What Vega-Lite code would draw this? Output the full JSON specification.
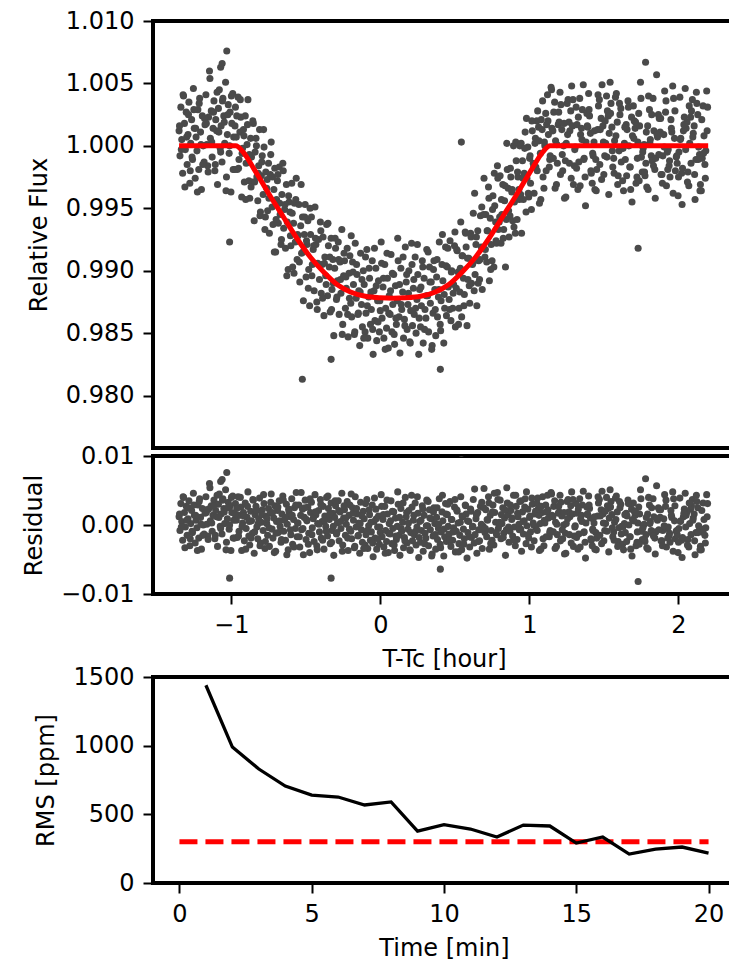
{"$schema":"https://vega.github.io/schema/vega-lite/v6.json","padding":{"left":20,"top":7,"right":0,"bottom":0},"background":"white","config":{"font":"DejaVu Sans","view":{"stroke":"black","strokeWidth":4},"axis":{"domain":false,"grid":false,"ticks":true,"tickColor":"black","tickSize":10,"tickWidth":2,"labelFont":"DejaVu Sans","labelFontSize":24,"labelColor":"black","labelPadding":9,"labelFlush":false,"labelOverlap":false,"titleFont":"DejaVu Sans","titleFontSize":24,"titleFontWeight":"normal","titleColor":"black"},"axisX":{"titlePadding":10},"axisY":{"titlePadding":14}},
"datasets":{
"lc":[
{"t":-1.35,"f":1.0012,"r":0.0012},{"t":-1.344,"f":0.9992,"r":-0.0008},{"t":-1.338,"f":1.0031,"r":0.0031},{"t":-1.332,"f":1.0005,"r":0.0005},{"t":-1.326,"f":0.9978,"r":-0.0022},{"t":-1.32,"f":1.004,"r":0.004},{"t":-1.314,"f":1.0018,"r":0.0018},{"t":-1.308,"f":0.9997,"r":-0.0003},{"t":-1.302,"f":1.0027,"r":0.0027},{"t":-1.296,"f":0.9985,"r":-0.0015},
{"t":-1.29,"f":1.0009,"r":0.0009},{"t":-1.284,"f":1.0035,"r":0.0035},{"t":-1.278,"f":0.997,"r":-0.003},{"t":-1.272,"f":1.0002,"r":0.0002},{"t":-1.266,"f":1.0021,"r":0.0021},{"t":-1.26,"f":0.9989,"r":-0.0011},{"t":-1.254,"f":1.0046,"r":0.0046},{"t":-1.248,"f":1.0014,"r":0.0014},{"t":-1.242,"f":0.9974,"r":-0.0026},{"t":-1.236,"f":1.0007,"r":0.0007},
{"t":-1.23,"f":0.9996,"r":-0.0004},{"t":-1.224,"f":1.0029,"r":0.0029},{"t":-1.218,"f":0.9981,"r":-0.0019},{"t":-1.212,"f":1.0038,"r":0.0038},{"t":-1.206,"f":1.0011,"r":0.0011},{"t":-1.2,"f":0.9965,"r":-0.0035},{"t":-1.194,"f":1.0024,"r":0.0024},{"t":-1.188,"f":1.0,"r":0.0},{"t":-1.182,"f":0.9987,"r":-0.0013},{"t":-1.176,"f":1.0017,"r":0.0017},
{"t":-1.17,"f":1.0041,"r":0.0041},{"t":-1.164,"f":1.0001,"r":0.0001},{"t":-1.158,"f":0.9984,"r":-0.0016},{"t":-1.152,"f":1.0023,"r":0.0023},{"t":-1.146,"f":1.006,"r":0.006},{"t":-1.14,"f":1.0006,"r":0.0006},{"t":-1.134,"f":1.0028,"r":0.0028},{"t":-1.128,"f":0.9991,"r":-0.0009},{"t":-1.122,"f":1.0014,"r":0.0014},{"t":-1.116,"f":1.0036,"r":0.0036},
{"t":-1.11,"f":0.998,"r":-0.002},{"t":-1.104,"f":1.0021,"r":0.0021},{"t":-1.098,"f":1.0012,"r":0.0012},{"t":-1.092,"f":0.9969,"r":-0.0031},{"t":-1.086,"f":1.003,"r":0.003},{"t":-1.08,"f":1.0045,"r":0.0045},{"t":-1.074,"f":0.9998,"r":-0.0002},{"t":-1.068,"f":1.0016,"r":0.0016},{"t":-1.062,"f":0.9987,"r":-0.0013},{"t":-1.056,"f":1.0038,"r":0.0038},
{"t":-1.05,"f":1.0024,"r":0.0024},{"t":-1.044,"f":1.0002,"r":0.0002},{"t":-1.038,"f":1.0051,"r":0.0051},{"t":-1.032,"f":0.9975,"r":-0.0025},{"t":-1.026,"f":1.0009,"r":0.0009},{"t":-1.02,"f":1.0033,"r":0.0033},{"t":-1.014,"f":0.9994,"r":-0.0006},{"t":-1.008,"f":1.0027,"r":0.0027},{"t":-1.002,"f":0.9963,"r":-0.0037},{"t":-0.996,"f":1.0018,"r":0.0018},
{"t":-0.99,"f":1.0042,"r":0.0042},{"t":-0.984,"f":1.0007,"r":0.0007},{"t":-0.978,"f":0.9981,"r":-0.0019},{"t":-0.972,"f":1.0031,"r":0.0031},
{"t":-0.966,"f":1.0007,"r":0.0007},{"t":-0.96,"f":0.9981,"r":-0.0018},{"t":-0.954,"f":1.0039,"r":0.0041},{"t":-0.948,"f":0.9989,"r":-0.0009},{"t":-0.942,"f":1.0011,"r":0.0014},{"t":-0.936,"f":1.0023,"r":0.0026},{"t":-0.93,"f":0.9959,"r":-0.0037},{"t":-0.924,"f":0.9998,"r":0.0003},{"t":-0.918,"f":1.0013,"r":0.0018},{"t":-0.912,"f":0.9971,"r":-0.0023},
{"t":-0.906,"f":1.0024,"r":0.0032},{"t":-0.9,"f":0.9986,"r":-0.0005},{"t":-0.894,"f":1.0001,"r":0.0011},{"t":-0.888,"f":1.0037,"r":0.0048},{"t":-0.882,"f":0.9972,"r":-0.0016},{"t":-0.876,"f":0.9958,"r":-0.0029},{"t":-0.87,"f":1.0006,"r":0.002},{"t":-0.864,"f":0.9991,"r":0.0006},{"t":-0.858,"f":0.9971,"r":-0.0012},{"t":-0.852,"f":1.0018,"r":0.0036},
{"t":-0.846,"f":0.994,"r":-0.0041},{"t":-0.84,"f":0.9995,"r":0.0015},{"t":-0.834,"f":1.0006,"r":0.0027},{"t":-0.828,"f":0.9975,"r":-0.0003},{"t":-0.822,"f":0.9956,"r":-0.002},{"t":-0.816,"f":0.9984,"r":0.0009},{"t":-0.81,"f":1.0013,"r":0.0039},{"t":-0.804,"f":0.9947,"r":-0.0026},{"t":-0.798,"f":0.9976,"r":0.0004},{"t":-0.792,"f":0.9992,"r":0.0022},
{"t":-0.786,"f":0.9961,"r":-0.0008},{"t":-0.78,"f":0.9999,"r":0.0031},{"t":-0.774,"f":0.9933,"r":-0.0034},{"t":-0.768,"f":0.9979,"r":0.0013},{"t":-0.762,"f":0.9966,"r":0.0002},{"t":-0.756,"f":0.9948,"r":-0.0015},{"t":-0.75,"f":0.9986,"r":0.0024},{"t":-0.744,"f":0.993,"r":-0.0031},{"t":-0.738,"f":0.9977,"r":0.0017},{"t":-0.732,"f":1.0003,"r":0.0045},
{"t":-0.726,"f":0.9951,"r":-0.0006},{"t":-0.72,"f":0.9937,"r":-0.0019},{"t":-0.714,"f":0.9965,"r":0.001},{"t":-0.708,"f":0.9982,"r":0.0028},{"t":-0.702,"f":0.9915,"r":-0.0038},{"t":-0.696,"f":0.9957,"r":0.0005},{"t":-0.69,"f":0.9972,"r":0.0021},{"t":-0.684,"f":0.9938,"r":-0.0011},{"t":-0.678,"f":0.9983,"r":0.0035},{"t":-0.672,"f":0.9945,"r":-0.0002},
{"t":-0.666,"f":0.9921,"r":-0.0025},{"t":-0.66,"f":0.9961,"r":0.0016},{"t":-0.654,"f":0.9986,"r":0.0042},{"t":-0.648,"f":0.9934,"r":-0.0009},{"t":-0.642,"f":0.9949,"r":0.0007},{"t":-0.636,"f":0.9918,"r":-0.0022},{"t":-0.63,"f":0.9969,"r":0.003},{"t":-0.624,"f":0.9939,"r":0.0001},{"t":-0.618,"f":0.9901,"r":-0.0036},{"t":-0.612,"f":0.9955,"r":0.0019},
{"t":-0.606,"f":0.9947,"r":0.0012},{"t":-0.6,"f":0.992,"r":-0.0014},{"t":-0.594,"f":0.997,"r":0.0038},{"t":-0.588,"f":0.9903,"r":-0.0028},{"t":-0.582,"f":0.9938,"r":0.0008},{"t":-0.576,"f":0.9954,"r":0.0025},{"t":-0.57,"f":0.9923,"r":-0.0005},{"t":-0.564,"f":0.9974,"r":0.0047},{"t":-0.558,"f":0.9909,"r":-0.0017},{"t":-0.552,"f":0.9928,"r":0.0003},
{"t":-0.546,"f":0.9953,"r":0.0029},{"t":-0.54,"f":0.9891,"r":-0.0032},{"t":-0.534,"f":0.9936,"r":0.0014},{"t":-0.528,"f":0.9914,"r":-0.0007},{"t":-0.522,"f":0.9943,"r":0.0023},{"t":-0.516,"f":0.9876,"r":-0.0043},{"t":-0.51,"f":0.9929,"r":0.0011},{"t":-0.504,"f":0.9953,"r":0.0036},{"t":-0.498,"f":0.9895,"r":-0.0021},{"t":-0.492,"f":0.9921,"r":0.0006},
{"t":-0.486,"f":0.994,"r":0.0026},{"t":-0.48,"f":0.9901,"r":-0.0012},{"t":-0.474,"f":0.9872,"r":-0.004},{"t":-0.468,"f":0.9929,"r":0.0018},{"t":-0.462,"f":0.9943,"r":0.0033},{"t":-0.456,"f":0.9905,"r":-0.0004},{"t":-0.45,"f":0.9917,"r":0.0009},{"t":-0.444,"f":0.9884,"r":-0.0024},{"t":-0.438,"f":0.9951,"r":0.0044},{"t":-0.432,"f":0.9921,"r":0.0015},
{"t":-0.426,"f":0.9875,"r":-0.003},{"t":-0.42,"f":0.9906,"r":0.0002},{"t":-0.414,"f":0.9925,"r":0.0021},{"t":-0.408,"f":0.9893,"r":-0.001},{"t":-0.402,"f":0.9939,"r":0.0037},{"t":-0.396,"f":0.9882,"r":-0.0019},{"t":-0.39,"f":0.9905,"r":0.0005},{"t":-0.384,"f":0.9927,"r":0.0027},{"t":-0.378,"f":0.9864,"r":-0.0035},{"t":-0.372,"f":0.9911,"r":0.0013},
{"t":-0.366,"f":0.9896,"r":-0.0002},{"t":-0.36,"f":0.9937,"r":0.004},{"t":-0.354,"f":0.988,"r":-0.0016},{"t":-0.348,"f":0.992,"r":0.0024},{"t":-0.342,"f":0.9903,"r":0.0008},{"t":-0.336,"f":0.9867,"r":-0.0027},{"t":-0.33,"f":0.9926,"r":0.0032},{"t":-0.324,"f":0.9885,"r":-0.0008},{"t":-0.318,"f":0.9909,"r":0.0017},{"t":-0.312,"f":0.9848,"r":-0.0044},
{"t":-0.306,"f":0.9902,"r":0.0011},{"t":-0.3,"f":0.9918,"r":0.0028},{"t":-0.294,"f":0.9877,"r":-0.0013},{"t":-0.288,"f":0.9892,"r":0.0003},{"t":-0.282,"f":0.9923,"r":0.0035},{"t":-0.276,"f":0.9865,"r":-0.0023},{"t":-0.27,"f":0.9907,"r":0.0019},{"t":-0.264,"f":0.9882,"r":-0.0005},{"t":-0.258,"f":0.9933,"r":0.0046},{"t":-0.252,"f":0.9857,"r":-0.0029},
{"t":-0.246,"f":0.9896,"r":0.001},{"t":-0.24,"f":0.9908,"r":0.0022},{"t":-0.234,"f":0.987,"r":-0.0015},{"t":-0.228,"f":0.9886,"r":0.0001},{"t":-0.222,"f":0.9918,"r":0.0034},{"t":-0.216,"f":0.9847,"r":-0.0037},{"t":-0.21,"f":0.9898,"r":0.0014},{"t":-0.204,"f":0.9912,"r":0.0029},{"t":-0.198,"f":0.9874,"r":-0.0009},{"t":-0.192,"f":0.9863,"r":-0.002},
{"t":-0.186,"f":0.9907,"r":0.0025},{"t":-0.18,"f":0.9889,"r":0.0007},{"t":-0.174,"f":0.9849,"r":-0.0033},{"t":-0.168,"f":0.9922,"r":0.0041},{"t":-0.162,"f":0.9878,"r":-0.0003},{"t":-0.156,"f":0.9897,"r":0.0016},
{"t":-0.15,"f":0.9865,"r":-0.0016},{"t":-0.144,"f":0.9884,"r":0.0003},{"t":-0.138,"f":0.984,"r":-0.0041},{"t":-0.132,"f":0.9914,"r":0.0033},{"t":-0.126,"f":0.9873,"r":-0.0007},{"t":-0.12,"f":0.9855,"r":-0.0025},{"t":-0.114,"f":0.99,"r":0.002},{"t":-0.108,"f":0.9889,"r":0.0009},{"t":-0.102,"f":0.9851,"r":-0.0029},{"t":-0.096,"f":0.9866,"r":-0.0014},
{"t":-0.09,"f":0.9917,"r":0.0037},{"t":-0.084,"f":0.9846,"r":-0.0034},{"t":-0.078,"f":0.9879,"r":-0.0001},{"t":-0.072,"f":0.9894,"r":0.0015},{"t":-0.066,"f":0.9857,"r":-0.0022},{"t":-0.06,"f":0.9869,"r":-0.001},{"t":-0.054,"f":0.9908,"r":0.0029},{"t":-0.048,"f":0.9833,"r":-0.0046},{"t":-0.042,"f":0.9884,"r":0.0005},{"t":-0.036,"f":0.986,"r":-0.0019},
{"t":-0.03,"f":0.9902,"r":0.0023},{"t":-0.024,"f":0.9844,"r":-0.0035},{"t":-0.018,"f":0.9876,"r":-0.0003},{"t":-0.012,"f":0.9892,"r":0.0013},{"t":-0.006,"f":0.9851,"r":-0.0028},{"t":0.0,"f":0.9868,"r":-0.0011},{"t":0.006,"f":0.9923,"r":0.0044},{"t":0.012,"f":0.9862,"r":-0.0017},{"t":0.018,"f":0.9887,"r":0.0008},{"t":0.024,"f":0.9846,"r":-0.0032},
{"t":0.03,"f":0.9905,"r":0.0027},{"t":0.036,"f":0.987,"r":-0.0008},{"t":0.042,"f":0.9854,"r":-0.0024},{"t":0.048,"f":0.9894,"r":0.0016},{"t":0.054,"f":0.9838,"r":-0.004},{"t":0.06,"f":0.988,"r":0.0002},{"t":0.066,"f":0.9865,"r":-0.0013},{"t":0.072,"f":0.9913,"r":0.0035},{"t":0.078,"f":0.9851,"r":-0.0027},{"t":0.084,"f":0.9873,"r":-0.0005},
{"t":0.09,"f":0.9897,"r":0.0019},{"t":0.096,"f":0.9841,"r":-0.0037},{"t":0.102,"f":0.9888,"r":0.001},{"t":0.108,"f":0.9857,"r":-0.0021},{"t":0.114,"f":0.9876,"r":-0.0002},{"t":0.12,"f":0.9908,"r":0.003},{"t":0.126,"f":0.9863,"r":-0.0015},{"t":0.132,"f":0.9834,"r":-0.0044},{"t":0.138,"f":0.9902,"r":0.0024},{"t":0.144,"f":0.9869,"r":-0.0009},
{"t":0.15,"f":0.9883,"r":0.0004},{"t":0.156,"f":0.9846,"r":-0.0033},{"t":0.162,"f":0.9861,"r":-0.0018},{"t":0.168,"f":0.9919,"r":0.004},{"t":0.174,"f":0.9891,"r":0.0012},{"t":0.18,"f":0.9853,"r":-0.0026},{"t":0.186,"f":0.9873,"r":-0.0006},{"t":0.192,"f":0.99,"r":0.0021},{"t":0.198,"f":0.9843,"r":-0.0036},{"t":0.204,"f":0.9868,"r":-0.0011},
{"t":0.21,"f":0.9922,"r":0.0043},{"t":0.216,"f":0.9856,"r":-0.0023},{"t":0.222,"f":0.9886,"r":0.0007},{"t":0.228,"f":0.9865,"r":-0.0014},{"t":0.234,"f":0.9911,"r":0.0032},{"t":0.24,"f":0.985,"r":-0.0029},{"t":0.246,"f":0.9877,"r":-0.0003},{"t":0.252,"f":0.9897,"r":0.0017},{"t":0.258,"f":0.9833,"r":-0.0047},{"t":0.264,"f":0.9885,"r":0.0005},
{"t":0.27,"f":0.9855,"r":-0.0025},{"t":0.276,"f":0.9872,"r":-0.0008},{"t":0.282,"f":0.9908,"r":0.0028},{"t":0.288,"f":0.9842,"r":-0.0038},{"t":0.294,"f":0.9894,"r":0.0014},{"t":0.3,"f":0.9869,"r":-0.0012},{"t":0.306,"f":0.9862,"r":-0.0019},{"t":0.312,"f":0.9917,"r":0.0036},{"t":0.318,"f":0.988,"r":-0.0001},{"t":0.324,"f":0.9851,"r":-0.003},
{"t":0.33,"f":0.9903,"r":0.0022},{"t":0.336,"f":0.9874,"r":-0.0007},{"t":0.342,"f":0.9891,"r":0.0009},{"t":0.348,"f":0.984,"r":-0.0042},{"t":0.354,"f":0.9866,"r":-0.0016},{"t":0.36,"f":0.9908,"r":0.0025},{"t":0.366,"f":0.9885,"r":0.0002},{"t":0.372,"f":0.9848,"r":-0.0035},{"t":0.378,"f":0.9895,"r":0.0011},{"t":0.384,"f":0.9863,"r":-0.0021},
{"t":0.39,"f":0.9879,"r":-0.0005},{"t":0.396,"f":0.9923,"r":0.0038},{"t":0.402,"f":0.9857,"r":-0.0028},{"t":0.408,"f":0.9876,"r":-0.001},{"t":0.414,"f":0.9905,"r":0.0019},{"t":0.42,"f":0.9892,"r":0.0006},{"t":0.426,"f":0.9842,"r":-0.0045},{"t":0.432,"f":0.987,"r":-0.0017},{"t":0.438,"f":0.9919,"r":0.0031},{"t":0.444,"f":0.9864,"r":-0.0024},
{"t":0.45,"f":0.9903,"r":0.0015},{"t":0.456,"f":0.9887,"r":-0.0002},{"t":0.462,"f":0.9877,"r":-0.0013},{"t":0.468,"f":0.9924,"r":0.0034},{"t":0.474,"f":0.986,"r":-0.0031},{"t":0.48,"f":0.99,"r":0.0008},{"t":0.486,"f":0.987,"r":-0.0022},{"t":0.492,"f":0.9889,"r":-0.0004},{"t":0.498,"f":0.992,"r":0.0026},{"t":0.504,"f":0.9855,"r":-0.0039},
{"t":0.51,"f":0.9886,"r":-0.0009},{"t":0.516,"f":0.9916,"r":0.002},{"t":0.522,"f":0.9899,"r":0.0003},{"t":0.528,"f":0.987,"r":-0.0027},{"t":0.534,"f":0.9883,"r":-0.0015},{"t":0.54,"f":0.9939,"r":0.0041},{"t":0.546,"f":0.9863,"r":-0.0036},{"t":0.552,"f":0.9912,"r":0.0012},{"t":0.558,"f":0.9894,"r":-0.0006},{"t":0.564,"f":0.9881,"r":-0.002},
{"t":0.57,"f":0.9931,"r":0.0029},{"t":0.576,"f":0.9919,"r":0.0016},{"t":0.582,"f":0.9856,"r":-0.0048},{"t":0.588,"f":0.9893,"r":-0.0011},{"t":0.594,"f":0.991,"r":0.0005},{"t":0.6,"f":0.9874,"r":-0.0032},{"t":0.606,"f":0.993,"r":0.0023},{"t":0.612,"f":0.989,"r":-0.0018},{"t":0.618,"f":0.9905,"r":-0.0003},{"t":0.624,"f":0.9946,"r":0.0037},
{"t":0.63,"f":0.9884,"r":-0.0026},{"t":0.636,"f":0.9897,"r":-0.0014},{"t":0.642,"f":0.9921,"r":0.0009},{"t":0.648,"f":0.9872,"r":-0.0041},{"t":0.654,"f":0.9932,"r":0.0018},{"t":0.66,"f":0.9908,"r":-0.0007},{"t":0.666,"f":0.9893,"r":-0.0023},{"t":0.672,"f":0.9944,"r":0.0027},{"t":0.678,"f":0.9919,"r":0.0001},{"t":0.684,"f":0.9885,"r":-0.0034},
{"t":0.69,"f":0.9918,"r":-0.0002},{"t":0.696,"f":0.9974,"r":0.0053},{"t":0.702,"f":0.9911,"r":-0.0011},{"t":0.708,"f":0.9945,"r":0.0022},{"t":0.714,"f":0.9907,"r":-0.0017},{"t":0.72,"f":0.9932,"r":0.0007},{"t":0.726,"f":0.9967,"r":0.0041},{"t":0.732,"f":0.9892,"r":-0.0035},{"t":0.738,"f":0.9942,"r":0.0014},{"t":0.744,"f":0.9921,"r":-0.0008},
{"t":0.75,"f":0.9908,"r":-0.0022},{"t":0.756,"f":0.996,"r":0.0029},{"t":0.762,"f":0.9903,"r":-0.0029},{"t":0.768,"f":0.9952,"r":0.0018},{"t":0.774,"f":0.9939,"r":0.0004},{"t":0.78,"f":0.9922,"r":-0.0014},{"t":0.786,"f":0.9984,"r":0.0047},{"t":0.792,"f":0.9933,"r":-0.0005},{"t":0.798,"f":0.9939,"r":0.0},{"t":0.804,"f":0.9976,"r":0.0036},
{"t":0.81,"f":0.9922,"r":-0.002},{"t":0.816,"f":0.9945,"r":0.0002},{"t":0.822,"f":0.9969,"r":0.0025},{"t":0.828,"f":0.9933,"r":-0.0012},{"t":0.834,"f":0.9956,"r":0.001},{"t":0.84,"f":0.9903,"r":-0.0044},{"t":0.846,"f":0.9941,"r":-0.0007},{"t":0.852,"f":0.9981,"r":0.0032},{"t":0.858,"f":0.9966,"r":0.0015},{"t":0.864,"f":0.9927,"r":-0.0025},
{"t":0.87,"f":0.9944,"r":-0.0009},{"t":0.876,"f":0.9975,"r":0.0021},{"t":0.882,"f":0.9963,"r":0.0008},{"t":0.888,"f":0.994,"r":-0.0016},{"t":0.894,"f":1.0,"r":0.0043},{"t":0.9,"f":0.9955,"r":-0.0003},{"t":0.906,"f":0.993,"r":-0.003},{"t":0.912,"f":0.9988,"r":0.0027},{"t":0.918,"f":0.9941,"r":-0.0021},{"t":0.924,"f":0.9975,"r":0.0012},
{"t":0.93,"f":0.9965,"r":0.0001},{"t":0.936,"f":1.0,"r":0.0034},{"t":0.942,"f":0.9961,"r":-0.0006},{"t":0.948,"f":0.993,"r":-0.0038},{"t":0.954,"f":0.9988,"r":0.0019},{"t":0.96,"f":0.9957,"r":-0.0013},{"t":0.966,"f":0.9978,"r":0.0006},{"t":0.972,"f":1.0011,"r":0.0038},{"t":0.978,"f":0.9947,"r":-0.0027},{"t":0.984,"f":0.9974,"r":-0.0001},
{"t":0.99,"f":0.9999,"r":0.0023},{"t":0.996,"f":0.9959,"r":-0.0019},{"t":1.002,"f":0.999,"r":0.0011},{"t":1.008,"f":0.997,"r":-0.001},{"t":1.014,"f":0.9949,"r":-0.0032},{"t":1.02,"f":1.0012,"r":0.003},{"t":1.026,"f":0.9986,"r":0.0003},{"t":1.032,"f":0.9962,"r":-0.0023},{"t":1.038,"f":1.0002,"r":0.0016},{"t":1.044,"f":0.9983,"r":-0.0004},
{"t":1.05,"f":1.002,"r":0.0032},{"t":1.056,"f":1.0028,"r":0.0039},{"t":1.062,"f":1.0015,"r":0.0025},{"t":1.068,"f":0.9954,"r":-0.0037},{"t":1.074,"f":0.9994,"r":0.0002},{"t":1.08,"f":1.0021,"r":0.0027},{"t":1.086,"f":1.0013,"r":0.0018},{"t":1.092,"f":0.9975,"r":-0.002},{"t":1.098,"f":0.9966,"r":-0.003},{"t":1.104,"f":1.0,"r":0.0003},
{"t":1.11,"f":1.0026,"r":0.0029},{"t":1.116,"f":1.0017,"r":0.0019},{"t":1.122,"f":1.0041,"r":0.0043},{"t":1.128,"f":1.0009,"r":0.001},{"t":1.134,"f":0.9983,"r":-0.0017},{"t":1.14,"f":0.9992,"r":-0.0008},
{"t":1.146,"f":1.0047,"r":0.0047},{"t":1.152,"f":1.0014,"r":0.0014},{"t":1.158,"f":1.0012,"r":0.0012},{"t":1.164,"f":1.0027,"r":0.0027},{"t":1.17,"f":1.0035,"r":0.0035},{"t":1.176,"f":1.0004,"r":0.0004},{"t":1.182,"f":0.9969,"r":-0.0031},{"t":1.188,"f":0.9986,"r":-0.0014},{"t":1.194,"f":1.0017,"r":0.0017},{"t":1.2,"f":1.0019,"r":0.0019},
{"t":1.206,"f":1.0043,"r":0.0043},{"t":1.212,"f":1.0033,"r":0.0033},{"t":1.218,"f":1.0013,"r":0.0013},{"t":1.224,"f":0.998,"r":-0.002},{"t":1.23,"f":1.0,"r":0.0},{"t":1.236,"f":0.9958,"r":-0.0042},{"t":1.242,"f":0.9988,"r":-0.0012},{"t":1.248,"f":1.0002,"r":0.0002},{"t":1.254,"f":1.0034,"r":0.0034},{"t":1.26,"f":1.0037,"r":0.0037},
{"t":1.266,"f":1.0019,"r":0.0019},{"t":1.272,"f":1.0012,"r":0.0012},{"t":1.278,"f":1.0028,"r":0.0028},{"t":1.284,"f":1.0048,"r":0.0048},{"t":1.29,"f":1.0016,"r":0.0016},{"t":1.296,"f":0.9969,"r":-0.0031},{"t":1.302,"f":0.9984,"r":-0.0016},{"t":1.308,"f":0.9999,"r":-0.0001},{"t":1.314,"f":1.0031,"r":0.0031},{"t":1.32,"f":1.0017,"r":0.0017},
{"t":1.326,"f":0.9965,"r":-0.0035},{"t":1.332,"f":0.9987,"r":-0.0013},{"t":1.338,"f":1.0038,"r":0.0038},{"t":1.344,"f":1.0009,"r":0.0009},{"t":1.35,"f":1.0014,"r":0.0014},{"t":1.356,"f":1.0029,"r":0.0029},{"t":1.362,"f":1.0049,"r":0.0049},{"t":1.368,"f":0.999,"r":-0.001},{"t":1.374,"f":0.9975,"r":-0.0025},{"t":1.38,"f":1.0003,"r":0.0003},
{"t":1.386,"f":1.0026,"r":0.0026},{"t":1.392,"f":1.0015,"r":0.0015},{"t":1.398,"f":1.0042,"r":0.0042},{"t":1.404,"f":1.0024,"r":0.0024},{"t":1.41,"f":1.001,"r":0.001},{"t":1.416,"f":0.9978,"r":-0.0022},{"t":1.422,"f":0.997,"r":-0.003},{"t":1.428,"f":0.9992,"r":-0.0008},{"t":1.434,"f":1.0003,"r":0.0003},{"t":1.44,"f":0.9965,"r":-0.0035},
{"t":1.446,"f":0.9989,"r":-0.0011},{"t":1.452,"f":0.9981,"r":-0.0019},{"t":1.458,"f":1.0013,"r":0.0013},{"t":1.464,"f":1.0032,"r":0.0032},{"t":1.47,"f":1.0037,"r":0.0037},{"t":1.476,"f":1.0013,"r":0.0013},{"t":1.482,"f":1.0022,"r":0.0022},{"t":1.488,"f":1.0049,"r":0.0049},{"t":1.494,"f":1.0016,"r":0.0016},{"t":1.5,"f":0.9977,"r":-0.0023},
{"t":1.506,"f":0.9992,"r":-0.0008},{"t":1.512,"f":1.0002,"r":0.0002},{"t":1.518,"f":1.004,"r":0.004},{"t":1.524,"f":1.0028,"r":0.0028},{"t":1.53,"f":1.0024,"r":0.0024},{"t":1.536,"f":1.001,"r":0.001},{"t":1.542,"f":1.0051,"r":0.0051},{"t":1.548,"f":1.0034,"r":0.0034},{"t":1.554,"f":1.0015,"r":0.0015},{"t":1.56,"f":0.9983,"r":-0.0017},
{"t":1.566,"f":0.999,"r":-0.001},{"t":1.572,"f":1.0004,"r":0.0004},{"t":1.578,"f":1.0039,"r":0.0039},{"t":1.584,"f":1.0042,"r":0.0042},{"t":1.59,"f":1.0019,"r":0.0019},{"t":1.596,"f":0.9976,"r":-0.0024},{"t":1.602,"f":0.9996,"r":-0.0004},{"t":1.608,"f":1.0025,"r":0.0025},{"t":1.614,"f":1.003,"r":0.003},{"t":1.62,"f":0.9998,"r":-0.0002},
{"t":1.626,"f":0.9972,"r":-0.0028},{"t":1.632,"f":0.9964,"r":-0.0036},{"t":1.638,"f":1.0002,"r":0.0002},{"t":1.644,"f":0.9989,"r":-0.0011},{"t":1.65,"f":1.0017,"r":0.0017},{"t":1.656,"f":1.0013,"r":0.0013},{"t":1.662,"f":1.0036,"r":0.0036},{"t":1.668,"f":1.0,"r":0.0},{"t":1.674,"f":0.9983,"r":-0.0017},{"t":1.68,"f":0.9965,"r":-0.0035},
{"t":1.686,"f":1.0023,"r":0.0023},{"t":1.692,"f":1.0008,"r":0.0008},{"t":1.698,"f":1.0032,"r":0.0032},{"t":1.704,"f":1.002,"r":0.002},{"t":1.71,"f":1.0014,"r":0.0014},{"t":1.716,"f":0.997,"r":-0.003},{"t":1.722,"f":0.9975,"r":-0.0025},{"t":1.728,"f":1.0003,"r":0.0003},{"t":1.734,"f":1.0026,"r":0.0026},{"t":1.74,"f":1.0016,"r":0.0016},
{"t":1.746,"f":1.0051,"r":0.0051},{"t":1.752,"f":0.9991,"r":-0.0009},{"t":1.758,"f":0.9979,"r":-0.0021},{"t":1.764,"f":0.9998,"r":-0.0002},{"t":1.77,"f":1.0001,"r":0.0001},{"t":1.776,"f":0.9976,"r":-0.0024},{"t":1.782,"f":0.9986,"r":-0.0014},{"t":1.788,"f":0.9967,"r":-0.0033},{"t":1.794,"f":1.0016,"r":0.0016},{"t":1.8,"f":1.004,"r":0.004},
{"t":1.806,"f":1.0029,"r":0.0029},{"t":1.812,"f":1.0005,"r":0.0005},{"t":1.818,"f":0.9992,"r":-0.0008},{"t":1.824,"f":0.9988,"r":-0.0012},{"t":1.83,"f":1.0038,"r":0.0038},{"t":1.836,"f":1.0012,"r":0.0012},{"t":1.842,"f":0.9981,"r":-0.0019},{"t":1.848,"f":0.999,"r":-0.001},{"t":1.854,"f":1.0057,"r":0.0057},{"t":1.86,"f":1.0007,"r":0.0007},
{"t":1.866,"f":1.0025,"r":0.0025},{"t":1.872,"f":1.0022,"r":0.0022},{"t":1.878,"f":1.0011,"r":0.0011},{"t":1.884,"f":0.9977,"r":-0.0023},{"t":1.89,"f":0.9977,"r":-0.0023},{"t":1.896,"f":0.9992,"r":-0.0008},{"t":1.902,"f":1.0009,"r":0.0009},{"t":1.908,"f":1.0044,"r":0.0044},{"t":1.914,"f":1.0027,"r":0.0027},{"t":1.92,"f":0.9968,"r":-0.0032},
{"t":1.926,"f":0.9995,"r":-0.0005},{"t":1.932,"f":0.9997,"r":-0.0003},{"t":1.938,"f":0.9984,"r":-0.0016},{"t":1.944,"f":0.9975,"r":-0.0025},{"t":1.95,"f":1.0021,"r":0.0021},{"t":1.956,"f":1.0011,"r":0.0011},{"t":1.962,"f":1.0048,"r":0.0048},{"t":1.968,"f":1.0038,"r":0.0038},{"t":1.974,"f":1.0006,"r":0.0006},{"t":1.98,"f":0.998,"r":-0.002},
{"t":1.986,"f":0.9991,"r":-0.0009},{"t":1.992,"f":0.9986,"r":-0.0014},{"t":1.998,"f":0.996,"r":-0.004},{"t":2.004,"f":0.9995,"r":-0.0005},{"t":2.01,"f":1.0039,"r":0.0039},{"t":2.016,"f":1.0006,"r":0.0006},{"t":2.022,"f":0.9978,"r":-0.0022},{"t":2.028,"f":0.9982,"r":-0.0018},{"t":2.034,"f":1.0012,"r":0.0012},{"t":2.04,"f":1.0023,"r":0.0023},
{"t":2.046,"f":1.0046,"r":0.0046},{"t":2.052,"f":1.0014,"r":0.0014},{"t":2.058,"f":1.0019,"r":0.0019},{"t":2.064,"f":0.9979,"r":-0.0021},{"t":2.07,"f":0.9968,"r":-0.0032},{"t":2.076,"f":1.0002,"r":0.0002},{"t":2.082,"f":1.0023,"r":0.0023},{"t":2.088,"f":1.0028,"r":0.0028},{"t":2.094,"f":1.0037,"r":0.0037},{"t":2.1,"f":1.001,"r":0.001},
{"t":2.106,"f":1.0016,"r":0.0016},{"t":2.112,"f":0.9957,"r":-0.0043},{"t":2.118,"f":0.9989,"r":-0.0011},{"t":2.124,"f":1.0034,"r":0.0034},{"t":2.13,"f":1.0025,"r":0.0025},{"t":2.136,"f":0.9999,"r":-0.0001},{"t":2.142,"f":0.9993,"r":-0.0007},{"t":2.148,"f":0.9969,"r":-0.0031},{"t":2.154,"f":0.9964,"r":-0.0036},{"t":2.16,"f":0.999,"r":-0.001},
{"t":2.166,"f":1.0032,"r":0.0032},{"t":2.172,"f":1.0008,"r":0.0008},{"t":2.178,"f":0.9985,"r":-0.0015},{"t":2.184,"f":0.9996,"r":-0.0004},{"t":2.19,"f":1.0044,"r":0.0044},{"t":2.196,"f":1.0031,"r":0.0031},
{"t":-1.03,"f":1.0076,"r":0.0076},{"t":-1.071,"f":1.0063,"r":0.0063},{"t":-1.061,"f":1.0066,"r":0.0066},{"t":-1.011,"f":0.9923,"r":-0.0077},{"t":-0.523,"f":0.9813,"r":-0.0107},{"t":0.544,"f":1.0003,"r":0.0104},{"t":0.403,"f":0.9821,"r":-0.0064},{"t":1.78,"f":1.0067,"r":0.0067},{"t":1.73,"f":0.9918,"r":-0.0082},{"t":-0.33,"f":0.9829,"r":-0.0077},
{"t":-1.347,"f":1.0016,"r":0.0016},{"t":-1.335,"f":0.9997,"r":-0.0003},{"t":-1.323,"f":1.0041,"r":0.0041},{"t":-1.311,"f":0.9967,"r":-0.0033},{"t":-1.299,"f":1.0007,"r":0.0007},{"t":-1.287,"f":1.0025,"r":0.0025},{"t":-1.275,"f":0.998,"r":-0.002},{"t":-1.263,"f":0.9991,"r":-0.0009},{"t":-1.251,"f":1.0029,"r":0.0029},{"t":-1.239,"f":1.0014,"r":0.0014},
{"t":-1.227,"f":0.9963,"r":-0.0037},{"t":-1.215,"f":1.0034,"r":0.0034},{"t":-1.203,"f":1.0001,"r":0.0001},{"t":-1.191,"f":0.9985,"r":-0.0015},{"t":-1.179,"f":1.0022,"r":0.0022},{"t":-1.167,"f":1.0018,"r":0.0018},{"t":-1.155,"f":0.9979,"r":-0.0021},{"t":-1.143,"f":1.0054,"r":0.0054},{"t":-1.131,"f":1.0003,"r":0.0003},{"t":-1.119,"f":1.0027,"r":0.0027},
{"t":-1.107,"f":0.9985,"r":-0.0015},{"t":-1.095,"f":1.0043,"r":0.0043},{"t":-1.083,"f":1.0011,"r":0.0011},{"t":-1.071,"f":0.9995,"r":-0.0005},{"t":-1.059,"f":1.0036,"r":0.0036},{"t":-1.047,"f":1.0019,"r":0.0019},{"t":-1.035,"f":0.9964,"r":-0.0036},{"t":-1.023,"f":1.0025,"r":0.0025},{"t":-1.011,"f":1.0,"r":0.0},{"t":-0.999,"f":1.004,"r":0.004},
{"t":-0.987,"f":0.9981,"r":-0.0019},{"t":-0.975,"f":1.0016,"r":0.0016},{"t":-0.963,"f":1.0024,"r":0.0024},{"t":-0.951,"f":0.9982,"r":-0.0016},{"t":-0.939,"f":1.0037,"r":0.004},{"t":-0.927,"f":0.9994,"r":-0.0002},{"t":-0.915,"f":1.0008,"r":0.0013},{"t":-0.903,"f":0.9957,"r":-0.0035},{"t":-0.891,"f":1.0017,"r":0.0027},{"t":-0.879,"f":0.9993,"r":0.0005},
{"t":-0.867,"f":0.9967,"r":-0.0019},{"t":-0.855,"f":1.002,"r":0.0037},{"t":-0.843,"f":0.9971,"r":-0.001},{"t":-0.831,"f":1.0,"r":0.0021},{"t":-0.819,"f":0.9978,"r":0.0002},{"t":-0.807,"f":0.9944,"r":-0.003},{"t":-0.795,"f":0.9987,"r":0.0015},{"t":-0.783,"f":1.0013,"r":0.0044},{"t":-0.771,"f":0.9943,"r":-0.0024},{"t":-0.759,"f":0.9973,"r":0.0009},
{"t":-0.747,"f":0.9958,"r":-0.0004},{"t":-0.735,"f":0.9993,"r":0.0033},{"t":-0.723,"f":0.9975,"r":0.0018},{"t":-0.711,"f":0.9915,"r":-0.004},{"t":-0.699,"f":0.9941,"r":-0.0012},{"t":-0.687,"f":0.9977,"r":0.0026},{"t":-0.675,"f":0.9954,"r":0.0006},{"t":-0.663,"f":0.9925,"r":-0.0021},{"t":-0.651,"f":0.998,"r":0.0036},{"t":-0.639,"f":0.9953,"r":0.0011},
{"t":-0.627,"f":0.9896,"r":-0.0043},{"t":-0.615,"f":0.996,"r":0.0023},{"t":-0.603,"f":0.9928,"r":-0.0007},{"t":-0.591,"f":0.9946,"r":0.0014},{"t":-0.579,"f":0.9898,"r":-0.0032},{"t":-0.567,"f":0.9957,"r":0.0029},{"t":-0.555,"f":0.9929,"r":0.0003},{"t":-0.543,"f":0.9907,"r":-0.0017},{"t":-0.531,"f":0.9969,"r":0.0047},{"t":-0.519,"f":0.9915,"r":-0.0005},
{"t":-0.507,"f":0.9943,"r":0.0025},{"t":-0.495,"f":0.9924,"r":0.0008},{"t":-0.483,"f":0.9886,"r":-0.0028},{"t":-0.471,"f":0.995,"r":0.0038},{"t":-0.459,"f":0.9896,"r":-0.0014},{"t":-0.447,"f":0.992,"r":0.0012},{"t":-0.435,"f":0.9926,"r":0.0019},{"t":-0.423,"f":0.9869,"r":-0.0036},{"t":-0.411,"f":0.9905,"r":0.0001},{"t":-0.399,"f":0.9932,"r":0.003},
{"t":-0.387,"f":0.9878,"r":-0.0022},{"t":-0.375,"f":0.9906,"r":0.0007},{"t":-0.363,"f":0.9889,"r":-0.0009},{"t":-0.351,"f":0.9938,"r":0.0042},{"t":-0.339,"f":0.9911,"r":0.0016},{"t":-0.327,"f":0.9869,"r":-0.0025},{"t":-0.315,"f":0.989,"r":-0.0002},{"t":-0.303,"f":0.9926,"r":0.0035},{"t":-0.291,"f":0.9879,"r":-0.0011},{"t":-0.279,"f":0.9909,"r":0.0021},
{"t":-0.267,"f":0.9893,"r":0.0005},{"t":-0.255,"f":0.9849,"r":-0.0038},{"t":-0.243,"f":0.9914,"r":0.0028},{"t":-0.231,"f":0.9895,"r":0.001},{"t":-0.219,"f":0.9865,"r":-0.0019},{"t":-0.207,"f":0.9878,"r":-0.0006},{"t":-0.195,"f":0.9928,"r":0.0045},{"t":-0.183,"f":0.9899,"r":0.0017},{"t":-0.171,"f":0.9851,"r":-0.0031},{"t":-0.159,"f":0.9905,"r":0.0024},
{"t":-0.147,"f":0.9866,"r":-0.0015},{"t":-0.135,"f":0.9883,"r":0.0002},{"t":-0.123,"f":0.9893,"r":0.0013},{"t":-0.111,"f":0.9846,"r":-0.0034},{"t":-0.099,"f":0.9911,"r":0.0031},{"t":-0.087,"f":0.9872,"r":-0.0008},{"t":-0.075,"f":0.9902,"r":0.0022},{"t":-0.063,"f":0.9883,"r":0.0004},{"t":-0.051,"f":0.9853,"r":-0.0026},{"t":-0.039,"f":0.9918,"r":0.0039},
{"t":-0.027,"f":0.9888,"r":0.0009},{"t":-0.015,"f":0.9859,"r":-0.002},{"t":-0.003,"f":0.9876,"r":-0.0003},{"t":0.009,"f":0.9906,"r":0.0027},{"t":0.021,"f":0.9894,"r":0.0015},{"t":0.033,"f":0.9837,"r":-0.0041},{"t":0.045,"f":0.9914,"r":0.0036},{"t":0.057,"f":0.9866,"r":-0.0012},{"t":0.069,"f":0.9884,"r":0.0006},{"t":0.081,"f":0.9898,"r":0.002},
{"t":0.093,"f":0.9849,"r":-0.0029},{"t":0.105,"f":0.9862,"r":-0.0016},{"t":0.117,"f":0.9926,"r":0.0048},{"t":0.129,"f":0.9889,"r":0.0011},{"t":0.141,"f":0.9873,"r":-0.0005},{"t":0.153,"f":0.9911,"r":0.0032},{"t":0.165,"f":0.9856,"r":-0.0023},{"t":0.177,"f":0.9897,"r":0.0018},{"t":0.189,"f":0.9882,"r":0.0003},{"t":0.201,"f":0.9842,"r":-0.0037},
{"t":0.213,"f":0.9905,"r":0.0026},{"t":0.225,"f":0.9893,"r":0.0014},{"t":0.237,"f":0.987,"r":-0.0009},{"t":0.249,"f":0.9921,"r":0.0041},{"t":0.261,"f":0.9862,"r":-0.0018},{"t":0.273,"f":0.9887,"r":0.0007},{"t":0.285,"f":0.9903,"r":0.0023},{"t":0.297,"f":0.9853,"r":-0.0027},{"t":0.309,"f":0.988,"r":-0.0001},{"t":0.321,"f":0.9915,"r":0.0034},
{"t":0.333,"f":0.9891,"r":0.001},{"t":0.345,"f":0.9837,"r":-0.0045},{"t":0.357,"f":0.9901,"r":0.0019},{"t":0.369,"f":0.9869,"r":-0.0014},{"t":0.381,"f":0.9909,"r":0.0025},{"t":0.393,"f":0.9885,"r":0.0001},{"t":0.405,"f":0.9852,"r":-0.0033},{"t":0.417,"f":0.9929,"r":0.0043},{"t":0.429,"f":0.9881,"r":-0.0006},{"t":0.441,"f":0.9904,"r":0.0016},
{"t":0.453,"f":0.9918,"r":0.003},{"t":0.465,"f":0.9869,"r":-0.0021},{"t":0.477,"f":0.9899,"r":0.0008},{"t":0.489,"f":0.9882,"r":-0.001},{"t":0.501,"f":0.9931,"r":0.0037},{"t":0.513,"f":0.9917,"r":0.0022},{"t":0.525,"f":0.9857,"r":-0.0039},{"t":0.537,"f":0.9902,"r":0.0004},{"t":0.549,"f":0.9912,"r":0.0013},{"t":0.561,"f":0.9872,"r":-0.0028},
{"t":0.573,"f":0.993,"r":0.0028},{"t":0.585,"f":0.991,"r":0.0006},{"t":0.597,"f":0.9888,"r":-0.0017},{"t":0.609,"f":0.9927,"r":0.002},{"t":0.621,"f":0.9906,"r":-0.0002},{"t":0.633,"f":0.9962,"r":0.0052},{"t":0.645,"f":0.9927,"r":0.0015},{"t":0.657,"f":0.989,"r":-0.0024},{"t":0.669,"f":0.9909,"r":-0.0007},{"t":0.681,"f":0.9951,"r":0.0033},
{"t":0.693,"f":0.9945,"r":0.0025},{"t":0.705,"f":0.9917,"r":-0.0005},{"t":0.717,"f":0.9932,"r":0.0008},{"t":0.729,"f":0.9958,"r":0.0032},{"t":0.741,"f":0.9901,"r":-0.0027},{"t":0.753,"f":0.9949,"r":0.0019},{"t":0.765,"f":0.9978,"r":0.0046},{"t":0.777,"f":0.9924,"r":-0.0011},{"t":0.789,"f":0.9974,"r":0.0037},{"t":0.801,"f":0.9943,"r":0.0004},
{"t":0.813,"f":0.9957,"r":0.0015},{"t":0.825,"f":0.9926,"r":-0.0018},{"t":0.837,"f":0.9968,"r":0.0022},{"t":0.849,"f":1.0002,"r":0.0054},{"t":0.861,"f":0.9948,"r":-0.0003},{"t":0.873,"f":0.9982,"r":0.0029},{"t":0.885,"f":0.9965,"r":0.001},{"t":0.897,"f":0.9935,"r":-0.0022},{"t":0.909,"f":1.0003,"r":0.0043},{"t":0.921,"f":0.9979,"r":0.0017},
{"t":0.933,"f":0.9957,"r":-0.0007},{"t":0.945,"f":1.0002,"r":0.0035},{"t":0.957,"f":0.9974,"r":0.0005},{"t":0.969,"f":0.9998,"r":0.0026},{"t":0.981,"f":1.0022,"r":0.0048},{"t":0.993,"f":0.9962,"r":-0.0014},{"t":1.005,"f":0.9992,"r":0.0013},{"t":1.017,"f":1.002,"r":0.0039},{"t":1.029,"f":0.9983,"r":0.0},{"t":1.041,"f":1.0006,"r":0.002},
{"t":1.053,"f":0.998,"r":-0.0008},{"t":1.065,"f":1.0004,"r":0.0014},{"t":1.077,"f":0.9957,"r":-0.0035},{"t":1.089,"f":1.0036,"r":0.0041},{"t":1.101,"f":1.0003,"r":0.0007},{"t":1.113,"f":0.998,"r":-0.0017},{"t":1.125,"f":1.002,"r":0.0022},{"t":1.137,"f":0.9989,"r":-0.0011},
{"t":1.149,"f":1.0045,"r":0.0045},{"t":1.161,"f":0.999,"r":-0.001},{"t":1.173,"f":0.9966,"r":-0.0034},{"t":1.185,"f":1.0001,"r":0.0001},{"t":1.197,"f":1.0027,"r":0.0027},{"t":1.209,"f":0.9977,"r":-0.0023},{"t":1.221,"f":0.9993,"r":-0.0007},{"t":1.233,"f":1.0018,"r":0.0018},{"t":1.245,"f":0.9959,"r":-0.0041},{"t":1.257,"f":1.0009,"r":0.0009},
{"t":1.269,"f":0.9986,"r":-0.0014},{"t":1.281,"f":0.9974,"r":-0.0026},{"t":1.293,"f":1.0037,"r":0.0037},{"t":1.305,"f":0.9997,"r":-0.0003},{"t":1.317,"f":0.9982,"r":-0.0018},{"t":1.329,"f":1.0023,"r":0.0023},{"t":1.341,"f":0.9968,"r":-0.0032},{"t":1.353,"f":1.0005,"r":0.0005},{"t":1.365,"f":0.9989,"r":-0.0011},{"t":1.377,"f":0.9952,"r":-0.0048},
{"t":1.389,"f":1.0016,"r":0.0016},{"t":1.401,"f":1.0029,"r":0.0029},{"t":1.413,"f":0.998,"r":-0.002},{"t":1.425,"f":0.9994,"r":-0.0006},{"t":1.437,"f":1.0012,"r":0.0012},{"t":1.449,"f":0.9964,"r":-0.0036},{"t":1.461,"f":1.0041,"r":0.0041},{"t":1.473,"f":0.9985,"r":-0.0015},{"t":1.485,"f":0.9973,"r":-0.0027},{"t":1.497,"f":1.0003,"r":0.0003},
{"t":1.509,"f":1.002,"r":0.002},{"t":1.521,"f":0.9991,"r":-0.0009},{"t":1.533,"f":0.9961,"r":-0.0039},{"t":1.545,"f":1.0026,"r":0.0026},{"t":1.557,"f":0.9996,"r":-0.0004},{"t":1.569,"f":0.9978,"r":-0.0022},{"t":1.581,"f":1.0008,"r":0.0008},{"t":1.593,"f":0.9969,"r":-0.0031},{"t":1.605,"f":1.0034,"r":0.0034},{"t":1.617,"f":0.9987,"r":-0.0013},
{"t":1.629,"f":0.9998,"r":-0.0002},{"t":1.641,"f":1.0015,"r":0.0015},{"t":1.653,"f":0.9976,"r":-0.0024},{"t":1.665,"f":1.0031,"r":0.0031},{"t":1.677,"f":0.9983,"r":-0.0017},{"t":1.689,"f":0.9955,"r":-0.0045},{"t":1.701,"f":1.0006,"r":0.0006},{"t":1.713,"f":1.0019,"r":0.0019},{"t":1.725,"f":0.999,"r":-0.001},{"t":1.737,"f":0.9972,"r":-0.0028},
{"t":1.749,"f":1.0038,"r":0.0038},{"t":1.761,"f":0.9995,"r":-0.0005},{"t":1.773,"f":0.9979,"r":-0.0021},{"t":1.785,"f":1.0011,"r":0.0011},{"t":1.797,"f":0.9965,"r":-0.0035},{"t":1.809,"f":1.0002,"r":0.0002},{"t":1.821,"f":1.0025,"r":0.0025},{"t":1.833,"f":0.9984,"r":-0.0016},{"t":1.845,"f":0.9958,"r":-0.0042},{"t":1.857,"f":1.0009,"r":0.0009},
{"t":1.869,"f":0.9993,"r":-0.0007},{"t":1.881,"f":1.0022,"r":0.0022},{"t":1.893,"f":0.997,"r":-0.003},{"t":1.905,"f":0.9999,"r":-0.0001},{"t":1.917,"f":1.0036,"r":0.0036},{"t":1.929,"f":0.9981,"r":-0.0019},{"t":1.941,"f":0.9988,"r":-0.0012},{"t":1.953,"f":1.0014,"r":0.0014},{"t":1.965,"f":0.9962,"r":-0.0038},{"t":1.977,"f":1.0028,"r":0.0028},
{"t":1.989,"f":0.9992,"r":-0.0008},{"t":2.001,"f":0.9975,"r":-0.0025},{"t":2.013,"f":1.0005,"r":0.0005},{"t":2.025,"f":0.9953,"r":-0.0047},{"t":2.037,"f":1.0017,"r":0.0017},{"t":2.049,"f":0.9997,"r":-0.0003},{"t":2.061,"f":0.9971,"r":-0.0029},{"t":2.073,"f":1.0032,"r":0.0032},{"t":2.085,"f":0.9986,"r":-0.0014},{"t":2.097,"f":1.0007,"r":0.0007},
{"t":2.109,"f":0.9977,"r":-0.0023},{"t":2.121,"f":1.0043,"r":0.0043},{"t":2.133,"f":0.9989,"r":-0.0011},{"t":2.145,"f":0.9964,"r":-0.0036},{"t":2.157,"f":1.0021,"r":0.0021},{"t":2.169,"f":0.9994,"r":-0.0006},{"t":2.181,"f":0.9974,"r":-0.0026},{"t":2.193,"f":1.0012,"r":0.0012}
],
"model":[{"t":-1.35,"f":1.0},{"t":-0.97,"f":1.0},{"t":-0.92,"f":0.9995},{"t":-0.85,"f":0.9982},{"t":-0.74,"f":0.996},{"t":-0.65,"f":0.9943},{"t":-0.56,"f":0.9926},{"t":-0.47,"f":0.9911},{"t":-0.38,"f":0.9899},{"t":-0.29,"f":0.9889},{"t":-0.2,"f":0.9883},{"t":-0.1,"f":0.98795},{"t":0.0,"f":0.98783},{"t":0.085,"f":0.9878},{"t":0.17,"f":0.98783},{"t":0.27,"f":0.98795},{"t":0.37,"f":0.9883},{"t":0.46,"f":0.9889},{"t":0.55,"f":0.9899},{"t":0.64,"f":0.9911},{"t":0.73,"f":0.9926},{"t":0.82,"f":0.9943},{"t":0.91,"f":0.996},{"t":1.02,"f":0.9982},{"t":1.09,"f":0.9995},{"t":1.14,"f":1.0},{"t":2.2,"f":1.0}],
"rms":[{"b":1,"v":1440},{"b":2,"v":990},{"b":3,"v":830},{"b":4,"v":706},{"b":5,"v":640},{"b":6,"v":626},{"b":7,"v":568},{"b":8,"v":590},{"b":9,"v":378},{"b":10,"v":425},{"b":11,"v":393},{"b":12,"v":335},{"b":13,"v":422},{"b":14,"v":415},{"b":15,"v":291},{"b":16,"v":335},{"b":17,"v":211},{"b":18,"v":247},{"b":19,"v":262},{"b":20,"v":218}],
"ref":[{"b":0,"v":300},{"b":20,"v":300}]
},
"bounds":"flush","spacing":8,
"vconcat":[
{"width":582,"height":427,
 "encoding":{"x":{"field":"t","type":"quantitative","scale":{"domain":[-1.525,2.38],"nice":false,"zero":false},"axis":null},
  "y":{"field":"f","type":"quantitative","scale":{"domain":[0.9758,1.01],"nice":false,"zero":false},"axis":{"values":[0.98,0.985,0.99,0.995,1.0,1.005,1.01],"format":".3f","title":"Relative Flux"}}},
 "layer":[
  {"data":{"name":"lc"},"mark":{"type":"circle","size":50,"color":"#4a4a4a","opacity":1}},
  {"data":{"name":"model"},"mark":{"type":"line","color":"#ff0000","strokeWidth":5,"interpolate":"monotone"}}
 ]},
{"width":582,"height":138,"data":{"name":"lc"},
 "mark":{"type":"circle","size":50,"color":"#4a4a4a","opacity":1,"clip":true},
 "encoding":{"x":{"field":"t","type":"quantitative","scale":{"domain":[-1.525,2.38],"nice":false,"zero":false},"axis":{"values":[-1,0,1,2],"format":"d","title":"T-Tc [hour]"}},
  "y":{"field":"r","type":"quantitative","scale":{"domain":[-0.01,0.01],"nice":false,"zero":false},"axis":{"values":[-0.01,0,0.01],"format":".2f","title":"Residual"}}}},
{"width":582,"height":67,"data":{"values":[{"a":0}]},"mark":{"type":"text","text":""},"view":{"stroke":null}},
{"width":582,"height":206,
 "encoding":{"x":{"field":"b","type":"quantitative","scale":{"domain":[-1,21],"nice":false,"zero":false},"axis":{"values":[0,5,10,15,20],"format":"d","title":"Time [min]"}},
  "y":{"field":"v","type":"quantitative","scale":{"domain":[0,1500],"nice":false},"axis":{"values":[0,500,1000,1500],"format":"d","title":"RMS [ppm]"}}},
 "layer":[
  {"data":{"name":"ref"},"mark":{"type":"line","color":"#ff0000","strokeWidth":5,"strokeDash":[18,8]}},
  {"data":{"name":"rms"},"mark":{"type":"line","color":"black","strokeWidth":3.3}}
 ]}
]}
